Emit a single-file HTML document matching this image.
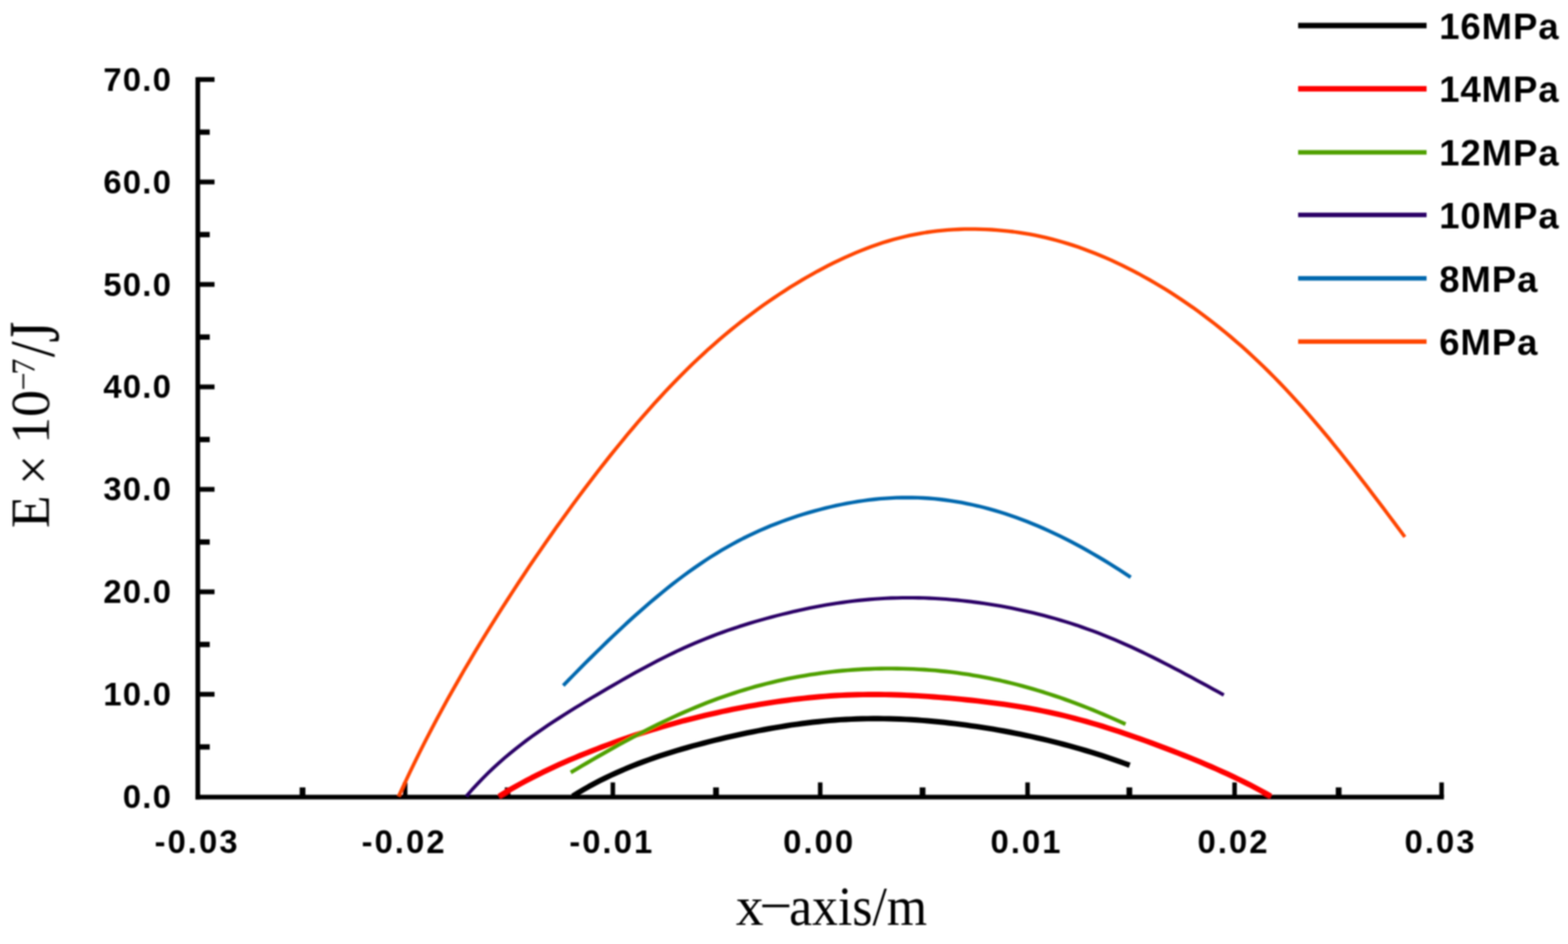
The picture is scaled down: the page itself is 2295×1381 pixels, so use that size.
<!DOCTYPE html>
<html lang="en"><head><meta charset="utf-8"><title>E vs x-axis</title>
<style>
html,body{margin:0;padding:0;background:#fff;}
body{width:2295px;height:1381px;overflow:hidden;}
svg{display:block;}
.tick{font-family:"Liberation Sans",sans-serif;font-weight:bold;font-size:48px;fill:#000;}
.leg{font-family:"Liberation Sans",sans-serif;font-weight:bold;font-size:53.5px;fill:#000;letter-spacing:1.3px;}
.axl{font-family:"Liberation Serif",serif;font-size:80px;fill:#000;}
#curves path{fill:none;stroke-linecap:butt;stroke-linejoin:round;}
</style></head><body>
<svg xmlns="http://www.w3.org/2000/svg" width="2295" height="1381" viewBox="0 0 2295 1381">
<defs><clipPath id="plot"><rect x="0" y="0" width="2295" height="1168.5"/></clipPath>
<filter id="soft" x="-2%" y="-2%" width="104%" height="104%"><feGaussianBlur stdDeviation="1.2"/></filter>
</defs>
<rect x="0" y="0" width="2295" height="1381" fill="#fff"/>
<g id="chart" filter="url(#soft)">
<g id="axes" fill="#000">
<rect x="286.1" y="112.9" width="6.8" height="1056.6"/>
<rect x="286.1" y="1162.7" width="1827.3" height="6.8"/>
<rect x="289.5" y="112.8" width="24.5" height="7.0"/>
<rect x="289.5" y="262.7" width="24.5" height="7.0"/>
<rect x="289.5" y="412.6" width="24.5" height="7.0"/>
<rect x="289.5" y="562.5" width="24.5" height="7.0"/>
<rect x="289.5" y="712.4" width="24.5" height="7.0"/>
<rect x="289.5" y="862.3" width="24.5" height="7.0"/>
<rect x="289.5" y="1012.2" width="24.5" height="7.0"/>
<rect x="289.5" y="189.4" width="17.5" height="7.8"/>
<rect x="289.5" y="339.3" width="17.5" height="7.8"/>
<rect x="289.5" y="489.2" width="17.5" height="7.8"/>
<rect x="289.5" y="639.1" width="17.5" height="7.8"/>
<rect x="289.5" y="789.0" width="17.5" height="7.8"/>
<rect x="289.5" y="938.9" width="17.5" height="7.8"/>
<rect x="289.5" y="1088.8" width="17.5" height="7.8"/>
<rect x="589.7" y="1144.6" width="6.6" height="21.5"/>
<rect x="893.7" y="1144.6" width="6.6" height="21.5"/>
<rect x="1197.2" y="1144.6" width="6.6" height="21.5"/>
<rect x="1500.7" y="1144.6" width="6.6" height="21.5"/>
<rect x="1803.7" y="1144.6" width="6.6" height="21.5"/>
<rect x="2106.7" y="1144.6" width="6.6" height="21.5"/>
<rect x="438.6" y="1151.9" width="8.4" height="14.2"/>
<rect x="738.8" y="1151.9" width="8.4" height="14.2"/>
<rect x="1043.8" y="1151.9" width="8.4" height="14.2"/>
<rect x="1346.1" y="1151.9" width="8.4" height="14.2"/>
<rect x="1648.8" y="1151.9" width="8.4" height="14.2"/>
<rect x="1955.1" y="1151.9" width="8.4" height="14.2"/>
</g>
<g id="curves" clip-path="url(#plot)">
<path d="M583.6 1164.6 L591.6 1147.4 L599.5 1130.6 L607.5 1114.1 L615.4 1098.1 L623.4 1082.4 L631.4 1067.0 L639.3 1052.0 L647.3 1037.3 L655.2 1022.8 L663.2 1008.6 L671.2 994.6 L679.1 980.8 L687.1 967.3 L695.0 953.9 L703.0 940.7 L711.0 927.7 L718.9 914.8 L726.9 902.1 L734.8 889.6 L742.8 877.2 L750.8 864.9 L758.7 852.7 L766.7 840.7 L774.6 828.8 L782.6 817.1 L790.6 805.4 L798.5 793.9 L806.5 782.6 L814.4 771.3 L822.4 760.2 L830.4 749.2 L838.3 738.3 L846.3 727.5 L854.2 716.9 L862.2 706.3 L870.2 695.9 L878.1 685.7 L886.1 675.5 L894.0 665.5 L902.0 655.6 L910.0 645.9 L917.9 636.2 L925.9 626.8 L933.8 617.4 L941.8 608.2 L949.8 599.2 L957.7 590.3 L965.7 581.6 L973.6 573.0 L981.6 564.6 L989.6 556.4 L997.5 548.3 L1005.5 540.4 L1013.4 532.6 L1021.4 525.1 L1029.4 517.7 L1037.3 510.4 L1045.3 503.4 L1053.2 496.5 L1061.2 489.7 L1069.2 483.1 L1077.1 476.7 L1085.1 470.4 L1093.0 464.3 L1101.0 458.3 L1109.0 452.4 L1116.9 446.7 L1124.9 441.1 L1132.8 435.7 L1140.8 430.4 L1148.8 425.2 L1156.7 420.1 L1164.7 415.2 L1172.6 410.4 L1180.6 405.8 L1188.6 401.2 L1196.5 396.8 L1204.5 392.6 L1212.4 388.4 L1220.4 384.4 L1228.4 380.6 L1236.3 376.9 L1244.3 373.3 L1252.2 369.9 L1260.2 366.6 L1268.2 363.5 L1276.1 360.5 L1284.1 357.7 L1292.0 355.1 L1300.0 352.6 L1308.0 350.3 L1315.9 348.2 L1323.9 346.2 L1331.8 344.4 L1339.8 342.8 L1347.8 341.3 L1355.7 340.0 L1363.7 338.9 L1371.6 337.9 L1379.6 337.1 L1387.6 336.4 L1395.5 335.8 L1403.5 335.5 L1411.4 335.2 L1419.4 335.1 L1427.4 335.1 L1435.3 335.3 L1443.3 335.6 L1451.2 336.0 L1459.2 336.6 L1467.2 337.3 L1475.1 338.1 L1483.1 339.0 L1491.0 340.1 L1499.0 341.4 L1507.0 342.7 L1514.9 344.2 L1522.9 345.9 L1530.8 347.7 L1538.8 349.6 L1546.8 351.7 L1554.7 354.0 L1562.7 356.4 L1570.6 358.9 L1578.6 361.6 L1586.6 364.4 L1594.5 367.4 L1602.5 370.5 L1610.4 373.7 L1618.4 377.1 L1626.4 380.6 L1634.3 384.3 L1642.3 388.1 L1650.2 392.1 L1658.2 396.1 L1666.2 400.3 L1674.1 404.7 L1682.1 409.1 L1690.0 413.7 L1698.0 418.5 L1706.0 423.3 L1713.9 428.3 L1721.9 433.5 L1729.8 438.8 L1737.8 444.2 L1745.8 449.7 L1753.7 455.4 L1761.7 461.3 L1769.6 467.3 L1777.6 473.5 L1785.6 479.8 L1793.5 486.2 L1801.5 492.9 L1809.4 499.7 L1817.4 506.6 L1825.4 513.8 L1833.3 521.1 L1841.3 528.6 L1849.2 536.2 L1857.2 544.0 L1865.2 552.0 L1873.1 560.2 L1881.1 568.5 L1889.0 577.0 L1897.0 585.7 L1905.0 594.6 L1912.9 603.6 L1920.9 612.7 L1928.8 622.0 L1936.8 631.5 L1944.8 641.0 L1952.7 650.8 L1960.7 660.6 L1968.6 670.6 L1976.6 680.6 L1984.6 690.8 L1992.5 701.1 L2000.5 711.4 L2008.4 721.8 L2016.4 732.3 L2024.4 742.9 L2032.3 753.5 L2040.3 764.1 L2048.2 774.8 L2056.2 785.5" stroke="#FF4500" stroke-width="5.3"/>
<path d="M824.4 1002.8 L832.4 994.6 L840.4 986.5 L848.4 978.4 L856.3 970.4 L864.3 962.5 L872.3 954.6 L880.3 946.8 L888.3 939.0 L896.3 931.4 L904.3 923.8 L912.3 916.4 L920.2 909.0 L928.2 901.8 L936.2 894.7 L944.2 887.7 L952.2 880.8 L960.2 874.1 L968.2 867.5 L976.1 861.0 L984.1 854.7 L992.1 848.5 L1000.1 842.5 L1008.1 836.7 L1016.1 831.0 L1024.1 825.5 L1032.0 820.1 L1040.0 814.9 L1048.0 809.9 L1056.0 805.1 L1064.0 800.5 L1072.0 796.0 L1080.0 791.7 L1088.0 787.5 L1095.9 783.6 L1103.9 779.8 L1111.9 776.1 L1119.9 772.7 L1127.9 769.3 L1135.9 766.2 L1143.9 763.1 L1151.8 760.2 L1159.8 757.5 L1167.8 754.8 L1175.8 752.3 L1183.8 749.9 L1191.8 747.6 L1199.8 745.5 L1207.8 743.4 L1215.7 741.5 L1223.7 739.7 L1231.7 738.0 L1239.7 736.4 L1247.7 735.0 L1255.7 733.7 L1263.7 732.5 L1271.6 731.4 L1279.6 730.5 L1287.6 729.7 L1295.6 729.1 L1303.6 728.6 L1311.6 728.2 L1319.6 728.0 L1327.6 727.9 L1335.5 728.0 L1343.5 728.2 L1351.5 728.5 L1359.5 729.0 L1367.5 729.7 L1375.5 730.5 L1383.5 731.5 L1391.4 732.6 L1399.4 733.8 L1407.4 735.2 L1415.4 736.8 L1423.4 738.5 L1431.4 740.3 L1439.4 742.3 L1447.3 744.4 L1455.3 746.6 L1463.3 749.0 L1471.3 751.5 L1479.3 754.2 L1487.3 757.0 L1495.3 759.9 L1503.3 763.0 L1511.2 766.2 L1519.2 769.5 L1527.2 773.0 L1535.2 776.6 L1543.2 780.3 L1551.2 784.1 L1559.2 788.1 L1567.1 792.2 L1575.1 796.4 L1583.1 800.7 L1591.1 805.1 L1599.1 809.7 L1607.1 814.4 L1615.1 819.1 L1623.1 824.0 L1631.0 829.0 L1639.0 834.1 L1647.0 839.2 L1655.0 844.5" stroke="#0368AE" stroke-width="5.3"/>
<path d="M682.6 1164.6 L690.6 1155.6 L698.6 1147.0 L706.5 1138.7 L714.5 1130.8 L722.5 1123.2 L730.5 1115.9 L738.4 1108.9 L746.4 1102.2 L754.4 1095.7 L762.4 1089.4 L770.3 1083.4 L778.3 1077.5 L786.3 1071.8 L794.3 1066.3 L802.2 1060.9 L810.2 1055.6 L818.2 1050.5 L826.2 1045.4 L834.1 1040.4 L842.1 1035.4 L850.1 1030.6 L858.1 1025.7 L866.0 1020.9 L874.0 1016.2 L882.0 1011.5 L890.0 1006.8 L897.9 1002.2 L905.9 997.6 L913.9 993.0 L921.9 988.5 L929.8 984.1 L937.8 979.7 L945.8 975.4 L953.8 971.2 L961.7 967.0 L969.7 962.9 L977.7 959.0 L985.7 955.1 L993.6 951.3 L1001.6 947.7 L1009.6 944.1 L1017.6 940.7 L1025.5 937.3 L1033.5 934.1 L1041.5 931.0 L1049.5 927.9 L1057.5 925.0 L1065.4 922.2 L1073.4 919.5 L1081.4 916.8 L1089.4 914.3 L1097.3 911.8 L1105.3 909.4 L1113.3 907.1 L1121.3 904.9 L1129.2 902.7 L1137.2 900.6 L1145.2 898.6 L1153.2 896.7 L1161.1 894.8 L1169.1 893.0 L1177.1 891.3 L1185.1 889.6 L1193.0 888.0 L1201.0 886.5 L1209.0 885.1 L1217.0 883.8 L1224.9 882.5 L1232.9 881.4 L1240.9 880.3 L1248.9 879.3 L1256.8 878.4 L1264.8 877.6 L1272.8 876.9 L1280.8 876.2 L1288.7 875.7 L1296.7 875.3 L1304.7 874.9 L1312.7 874.7 L1320.6 874.5 L1328.6 874.5 L1336.6 874.5 L1344.6 874.6 L1352.5 874.8 L1360.5 875.1 L1368.5 875.5 L1376.5 876.0 L1384.4 876.5 L1392.4 877.2 L1400.4 877.9 L1408.4 878.7 L1416.3 879.6 L1424.3 880.6 L1432.3 881.6 L1440.3 882.7 L1448.3 883.9 L1456.2 885.2 L1464.2 886.6 L1472.2 888.1 L1480.2 889.6 L1488.1 891.2 L1496.1 892.9 L1504.1 894.7 L1512.1 896.5 L1520.0 898.5 L1528.0 900.5 L1536.0 902.7 L1544.0 904.9 L1551.9 907.2 L1559.9 909.6 L1567.9 912.1 L1575.9 914.7 L1583.8 917.5 L1591.8 920.3 L1599.8 923.2 L1607.8 926.2 L1615.7 929.3 L1623.7 932.6 L1631.7 935.9 L1639.7 939.3 L1647.6 942.8 L1655.6 946.4 L1663.6 950.1 L1671.6 953.9 L1679.5 957.7 L1687.5 961.6 L1695.5 965.6 L1703.5 969.7 L1711.4 973.8 L1719.4 977.9 L1727.4 982.1 L1735.4 986.4 L1743.3 990.6 L1751.3 994.9 L1759.3 999.3 L1767.3 1003.6 L1775.2 1008.0 L1783.2 1012.3 L1791.2 1016.7" stroke="#2A0066" stroke-width="5.1"/>
<path d="M838.0 1164.8 L846.0 1159.9 L854.0 1155.2 L862.0 1150.6 L870.0 1146.3 L878.0 1142.1 L886.0 1138.1 L894.0 1134.3 L902.0 1130.6 L910.0 1127.1 L918.0 1123.7 L925.9 1120.4 L933.9 1117.3 L941.9 1114.3 L949.9 1111.4 L957.9 1108.5 L965.9 1105.8 L973.9 1103.2 L981.9 1100.7 L989.9 1098.2 L997.9 1095.9 L1005.9 1093.6 L1013.9 1091.3 L1021.9 1089.2 L1029.9 1087.1 L1037.9 1085.0 L1045.9 1083.0 L1053.9 1081.1 L1061.9 1079.2 L1069.9 1077.4 L1077.9 1075.6 L1085.8 1073.9 L1093.8 1072.2 L1101.8 1070.6 L1109.8 1069.0 L1117.8 1067.5 L1125.8 1066.0 L1133.8 1064.6 L1141.8 1063.3 L1149.8 1062.0 L1157.8 1060.7 L1165.8 1059.6 L1173.8 1058.5 L1181.8 1057.5 L1189.8 1056.5 L1197.8 1055.7 L1205.8 1054.9 L1213.8 1054.1 L1221.8 1053.5 L1229.8 1052.9 L1237.8 1052.5 L1245.8 1052.1 L1253.7 1051.8 L1261.7 1051.5 L1269.7 1051.4 L1277.7 1051.3 L1285.7 1051.3 L1293.7 1051.4 L1301.7 1051.5 L1309.7 1051.7 L1317.7 1052.0 L1325.7 1052.4 L1333.7 1052.8 L1341.7 1053.3 L1349.7 1053.9 L1357.7 1054.5 L1365.7 1055.2 L1373.7 1056.0 L1381.7 1056.8 L1389.7 1057.7 L1397.7 1058.6 L1405.7 1059.6 L1413.6 1060.7 L1421.6 1061.8 L1429.6 1062.9 L1437.6 1064.1 L1445.6 1065.4 L1453.6 1066.7 L1461.6 1068.1 L1469.6 1069.5 L1477.6 1071.0 L1485.6 1072.6 L1493.6 1074.2 L1501.6 1075.8 L1509.6 1077.5 L1517.6 1079.3 L1525.6 1081.1 L1533.6 1083.0 L1541.6 1085.0 L1549.6 1087.0 L1557.6 1089.1 L1565.6 1091.2 L1573.5 1093.5 L1581.5 1095.7 L1589.5 1098.1 L1597.5 1100.5 L1605.5 1103.0 L1613.5 1105.6 L1621.5 1108.2 L1629.5 1110.9 L1637.5 1113.7 L1645.5 1116.6 L1653.5 1119.5" stroke="#000000" stroke-width="7.9"/>
<path d="M730.5 1164.8 L738.5 1160.0 L746.4 1155.3 L754.4 1150.8 L762.3 1146.4 L770.3 1142.1 L778.2 1137.9 L786.2 1133.9 L794.1 1129.9 L802.1 1126.1 L810.0 1122.4 L818.0 1118.7 L826.0 1115.2 L833.9 1111.7 L841.9 1108.4 L849.8 1105.0 L857.8 1101.8 L865.7 1098.7 L873.7 1095.6 L881.6 1092.5 L889.6 1089.6 L897.5 1086.7 L905.5 1083.8 L913.4 1081.0 L921.4 1078.3 L929.4 1075.6 L937.3 1073.0 L945.3 1070.5 L953.2 1068.0 L961.2 1065.6 L969.1 1063.2 L977.1 1060.9 L985.0 1058.7 L993.0 1056.5 L1000.9 1054.3 L1008.9 1052.3 L1016.9 1050.3 L1024.8 1048.3 L1032.8 1046.4 L1040.7 1044.6 L1048.7 1042.8 L1056.6 1041.0 L1064.6 1039.4 L1072.5 1037.7 L1080.5 1036.2 L1088.4 1034.7 L1096.4 1033.2 L1104.3 1031.8 L1112.3 1030.4 L1120.3 1029.1 L1128.2 1027.9 L1136.2 1026.7 L1144.1 1025.5 L1152.1 1024.5 L1160.0 1023.4 L1168.0 1022.5 L1175.9 1021.6 L1183.9 1020.7 L1191.8 1020.0 L1199.8 1019.3 L1207.8 1018.6 L1215.7 1018.0 L1223.7 1017.5 L1231.6 1017.1 L1239.6 1016.7 L1247.5 1016.5 L1255.5 1016.2 L1263.4 1016.1 L1271.4 1016.0 L1279.3 1015.9 L1287.3 1016.0 L1295.2 1016.1 L1303.2 1016.3 L1311.2 1016.5 L1319.1 1016.8 L1327.1 1017.1 L1335.0 1017.5 L1343.0 1017.9 L1350.9 1018.4 L1358.9 1018.9 L1366.8 1019.5 L1374.8 1020.1 L1382.7 1020.7 L1390.7 1021.4 L1398.7 1022.1 L1406.6 1022.9 L1414.6 1023.7 L1422.5 1024.5 L1430.5 1025.4 L1438.4 1026.3 L1446.4 1027.3 L1454.3 1028.3 L1462.3 1029.3 L1470.2 1030.4 L1478.2 1031.6 L1486.2 1032.8 L1494.1 1034.1 L1502.1 1035.5 L1510.0 1036.9 L1518.0 1038.4 L1525.9 1040.0 L1533.9 1041.6 L1541.8 1043.3 L1549.8 1045.1 L1557.7 1047.0 L1565.7 1049.0 L1573.6 1051.1 L1581.6 1053.2 L1589.6 1055.4 L1597.5 1057.7 L1605.5 1060.0 L1613.4 1062.4 L1621.4 1064.9 L1629.3 1067.5 L1637.3 1070.1 L1645.2 1072.7 L1653.2 1075.5 L1661.1 1078.2 L1669.1 1081.0 L1677.1 1083.9 L1685.0 1086.8 L1693.0 1089.7 L1700.9 1092.7 L1708.9 1095.7 L1716.8 1098.8 L1724.8 1101.9 L1732.7 1105.0 L1740.7 1108.2 L1748.6 1111.4 L1756.6 1114.7 L1764.5 1118.1 L1772.5 1121.5 L1780.5 1125.0 L1788.4 1128.6 L1796.4 1132.2 L1804.3 1135.9 L1812.3 1139.7 L1820.2 1143.6 L1828.2 1147.6 L1836.1 1151.8 L1844.1 1156.0 L1852.0 1160.3 L1860.0 1164.8" stroke="#FF0000" stroke-width="7.9"/>
<path d="M835.4 1130.0 L843.4 1125.3 L851.3 1120.7 L859.3 1116.0 L867.2 1111.4 L875.2 1106.8 L883.2 1102.3 L891.1 1097.8 L899.1 1093.3 L907.0 1088.9 L915.0 1084.6 L923.0 1080.3 L930.9 1076.1 L938.9 1071.9 L946.9 1067.8 L954.8 1063.8 L962.8 1059.8 L970.7 1056.0 L978.7 1052.2 L986.7 1048.5 L994.6 1044.9 L1002.6 1041.4 L1010.5 1038.0 L1018.5 1034.6 L1026.5 1031.4 L1034.4 1028.2 L1042.4 1025.2 L1050.3 1022.2 L1058.3 1019.4 L1066.3 1016.6 L1074.2 1014.0 L1082.2 1011.4 L1090.1 1009.0 L1098.1 1006.6 L1106.1 1004.3 L1114.0 1002.2 L1122.0 1000.1 L1129.9 998.2 L1137.9 996.3 L1145.9 994.5 L1153.8 992.8 L1161.8 991.2 L1169.8 989.8 L1177.7 988.4 L1185.7 987.1 L1193.6 985.9 L1201.6 984.7 L1209.6 983.7 L1217.5 982.8 L1225.5 981.9 L1233.4 981.1 L1241.4 980.5 L1249.4 979.9 L1257.3 979.4 L1265.3 978.9 L1273.2 978.6 L1281.2 978.3 L1289.2 978.1 L1297.1 978.0 L1305.1 978.0 L1313.0 978.1 L1321.0 978.2 L1329.0 978.5 L1336.9 978.8 L1344.9 979.2 L1352.9 979.6 L1360.8 980.2 L1368.8 980.8 L1376.7 981.6 L1384.7 982.4 L1392.7 983.3 L1400.6 984.3 L1408.6 985.4 L1416.5 986.6 L1424.5 987.9 L1432.5 989.2 L1440.4 990.7 L1448.4 992.2 L1456.3 993.9 L1464.3 995.6 L1472.3 997.5 L1480.2 999.4 L1488.2 1001.4 L1496.1 1003.5 L1504.1 1005.7 L1512.1 1008.0 L1520.0 1010.4 L1528.0 1012.8 L1535.9 1015.4 L1543.9 1018.0 L1551.9 1020.7 L1559.8 1023.5 L1567.8 1026.4 L1575.8 1029.4 L1583.7 1032.4 L1591.7 1035.5 L1599.6 1038.7 L1607.6 1042.0 L1615.6 1045.3 L1623.5 1048.7 L1631.5 1052.2 L1639.4 1055.8 L1647.4 1059.4" stroke="#4FA000" stroke-width="5.6"/>
</g>
<g id="ylabels" class="tick" text-anchor="end" letter-spacing="1.9">
<text x="252.2" y="132.7">70.0</text>
<text x="252.2" y="282.6">60.0</text>
<text x="252.2" y="432.5">50.0</text>
<text x="252.2" y="582.4">40.0</text>
<text x="252.2" y="732.3">30.0</text>
<text x="252.2" y="882.2">20.0</text>
<text x="252.2" y="1032.1">10.0</text>
<text x="252.2" y="1182.0">0.0</text>
</g>
<g id="xlabels" class="tick" text-anchor="middle" letter-spacing="3.0">
<text x="288.4" y="1248">-0.03</text>
<text x="591.4" y="1248">-0.02</text>
<text x="895.4" y="1248">-0.01</text>
<text x="1198.9" y="1248">0.00</text>
<text x="1502.4" y="1248">0.01</text>
<text x="1805.4" y="1248">0.02</text>
<text x="2108.4" y="1248">0.03</text>
</g>
<g id="legend">
<rect x="1900" y="33.4" width="188" height="8.0" fill="#000000"/>
<text class="leg" x="2106.5" y="56.8">16MPa</text>
<rect x="1900" y="125.9" width="188" height="8.0" fill="#FF0000"/>
<text class="leg" x="2106.5" y="149.3">14MPa</text>
<rect x="1900" y="219.6" width="188" height="6.6" fill="#4FA000"/>
<text class="leg" x="2106.5" y="242.3">12MPa</text>
<rect x="1900" y="311.1" width="188" height="6.6" fill="#2A0066"/>
<text class="leg" x="2106.5" y="333.8">10MPa</text>
<rect x="1900" y="403.9" width="188" height="6.6" fill="#0368AE"/>
<text class="leg" x="2106.5" y="426.6">8MPa</text>
<rect x="1900" y="496.4" width="188" height="6.6" fill="#FF4500"/>
<text class="leg" x="2106.5" y="519.1">6MPa</text>
</g>
<text class="axl" font-size="80"><tspan x="1077.0" y="1353.0" textLength="40.5" lengthAdjust="spacingAndGlyphs">x</tspan><tspan x="1111.5" y="1351.5" textLength="48.0" lengthAdjust="spacingAndGlyphs">−</tspan><tspan x="1155.0" y="1353.0" textLength="202.0" lengthAdjust="spacingAndGlyphs">axis/m</tspan></text>
<text class="axl" font-size="84" transform="translate(71.5 771.0) rotate(-90)"><tspan x="-1.5" y="0.0" textLength="47.7" lengthAdjust="spacingAndGlyphs">E</tspan><tspan x="45.0" y="0.0"> </tspan><tspan x="61.5" y="3.5" textLength="44.1" lengthAdjust="spacingAndGlyphs">×</tspan><tspan x="105.0" y="0.0"> </tspan><tspan x="121.5" y="0.0" textLength="79.0" lengthAdjust="spacingAndGlyphs">10</tspan><tspan x="200.0" y="-21.5" font-size="49.5" textLength="26.5" lengthAdjust="spacingAndGlyphs">−</tspan><tspan x="223.0" y="-21.5" font-size="49.5" textLength="23.5" lengthAdjust="spacingAndGlyphs">7</tspan><tspan x="248.5" y="6.5" font-size="92.4" textLength="23.4" lengthAdjust="spacingAndGlyphs">/</tspan><tspan x="270.0" y="14.0" font-size="105.0" textLength="30.4" lengthAdjust="spacingAndGlyphs">J</tspan></text>
</g>
</svg></body></html>
